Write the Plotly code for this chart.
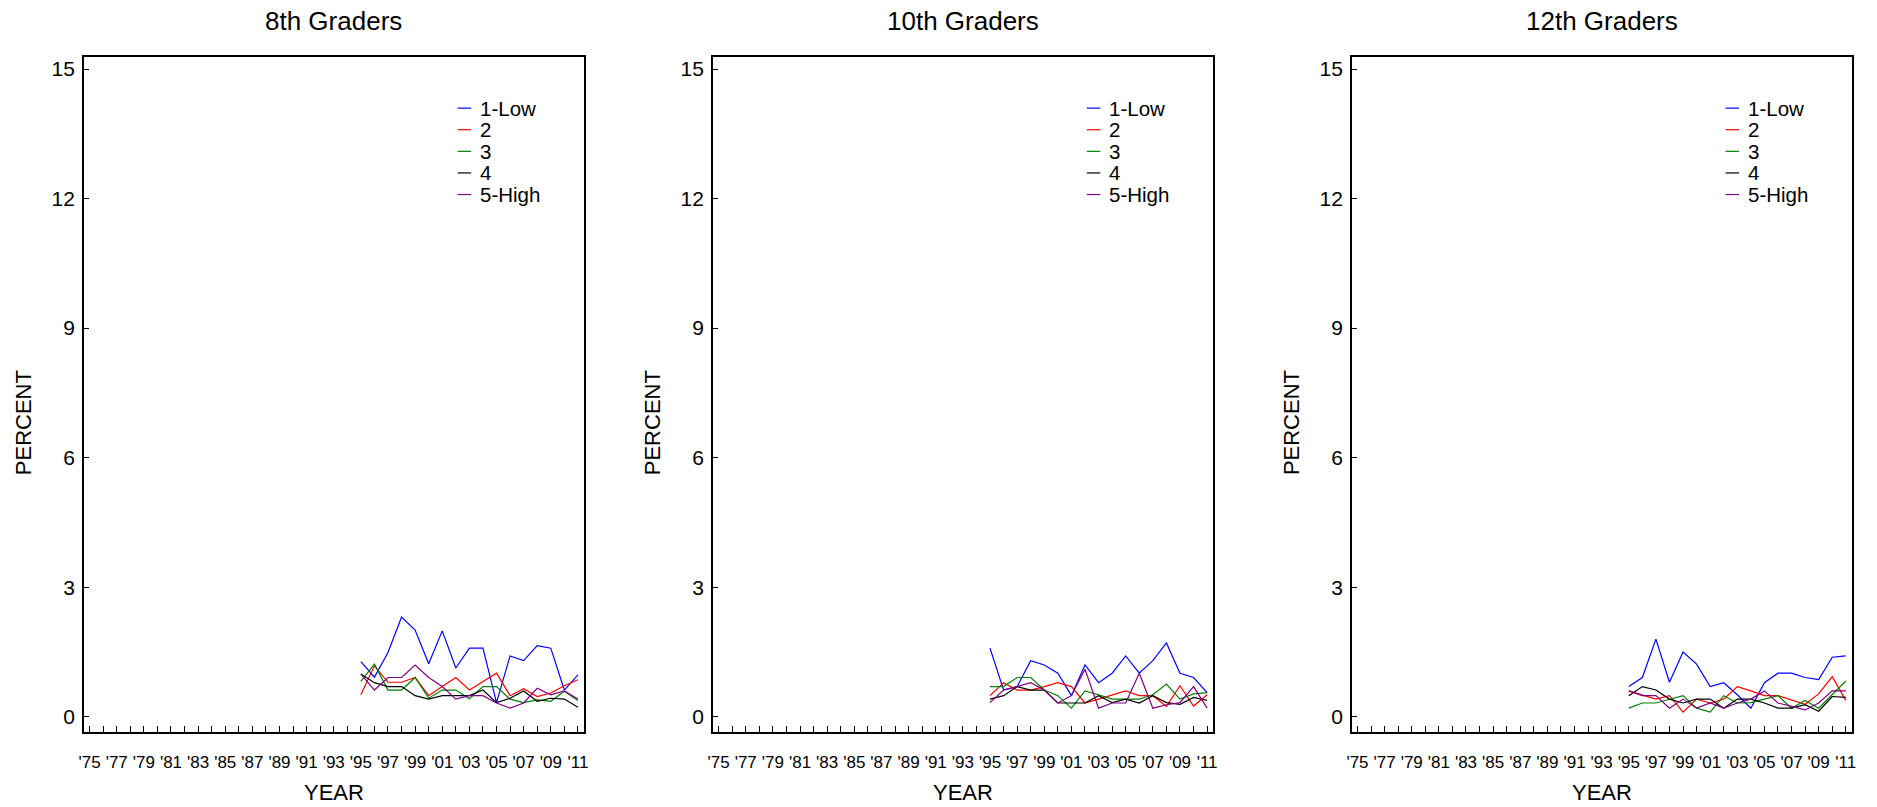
import plotly.graph_objects as go

# ---------------- data ----------------
years = list(range(1995, 2012))
groups = ["1-Low", "2", "3", "4", "5-High"]
line_colors = ["#0000FF", "#FF0000", "#008000", "#000000", "#800080"]
panel_titles = ["8th Graders", "10th Graders", "12th Graders"]

tick_years = list(range(1975, 2012))
tick_labels = ["'75", "", "'77", "", "'79", "", "'81", "", "'83", "", "'85", "", "'87", "",
               "'89", "", "'91", "", "'93", "", "'95", "", "'97", "", "'99", "", "'01", "",
               "'03", "", "'05", "", "'07", "", "'09", "", "'11"]
y_ticks = [0, 3, 6, 9, 12, 15]

# 8th grade
g8_low = [1.28, 0.92, 1.49, 2.31, 2.01, 1.23, 1.99, 1.13, 1.59, 1.59, 0.33, 1.41, 1.30, 1.65, 1.59, 0.62, 0.97]
g8_2 = [0.51, 1.18, 0.80, 0.80, 0.91, 0.49, 0.70, 0.91, 0.62, 0.82, 1.01, 0.49, 0.65, 0.47, 0.55, 0.72, 0.86]
g8_3 = [0.82, 1.22, 0.62, 0.62, 0.91, 0.43, 0.62, 0.62, 0.42, 0.70, 0.70, 0.41, 0.33, 0.39, 0.36, 0.59, 0.38]
g8_4 = [0.99, 0.79, 0.70, 0.70, 0.49, 0.41, 0.49, 0.49, 0.49, 0.62, 0.33, 0.43, 0.60, 0.36, 0.43, 0.41, 0.22]
g8_high = [0.99, 0.62, 0.91, 0.91, 1.20, 0.91, 0.70, 0.41, 0.49, 0.49, 0.32, 0.20, 0.32, 0.66, 0.51, 0.60, 0.41]

# 10th grade
g10_low = [1.59, 0.62, 0.70, 1.30, 1.20, 1.01, 0.49, 1.20, 0.79, 1.01, 1.41, 1.01, 1.30, 1.71, 1.01, 0.91, 0.56]
g10_2 = [0.49, 0.79, 0.62, 0.62, 0.70, 0.79, 0.70, 0.32, 0.41, 0.51, 0.60, 0.49, 0.49, 0.24, 0.72, 0.25, 0.51]
g10_3 = [0.70, 0.70, 0.91, 0.91, 0.62, 0.49, 0.20, 0.60, 0.51, 0.41, 0.41, 0.41, 0.51, 0.76, 0.41, 0.53, 0.56]
g10_4 = [0.41, 0.49, 0.70, 0.62, 0.62, 0.32, 0.32, 0.32, 0.49, 0.33, 0.41, 0.32, 0.49, 0.33, 0.29, 0.45, 0.38]
g10_high = [0.33, 0.62, 0.70, 0.79, 0.62, 0.32, 0.49, 1.10, 0.20, 0.32, 0.32, 1.01, 0.20, 0.28, 0.33, 0.70, 0.20]

# 12th grade
g12_low = [0.70, 0.91, 1.80, 0.80, 1.50, 1.22, 0.70, 0.79, 0.51, 0.20, 0.79, 1.01, 1.01, 0.91, 0.86, 1.38, 1.41]
g12_2 = [0.60, 0.51, 0.41, 0.49, 0.11, 0.41, 0.32, 0.41, 0.70, 0.60, 0.49, 0.49, 0.39, 0.29, 0.53, 0.93, 0.38]
g12_3 = [0.20, 0.32, 0.32, 0.41, 0.49, 0.20, 0.11, 0.49, 0.32, 0.33, 0.41, 0.49, 0.20, 0.38, 0.20, 0.51, 0.83]
g12_4 = [0.49, 0.70, 0.62, 0.41, 0.32, 0.41, 0.41, 0.20, 0.41, 0.41, 0.32, 0.20, 0.20, 0.28, 0.13, 0.47, 0.45]
g12_high = [0.60, 0.49, 0.49, 0.20, 0.41, 0.20, 0.32, 0.20, 0.32, 0.41, 0.60, 0.32, 0.24, 0.16, 0.32, 0.60, 0.60]

panel_series = [
    [g8_low, g8_2, g8_3, g8_4, g8_high],
    [g10_low, g10_2, g10_3, g10_4, g10_high],
    [g12_low, g12_2, g12_3, g12_4, g12_high],
]

# ---------------- layout geometry (pixels) ----------------
W, H = 1877, 807
FONT = "Liberation Sans, Arial, Helvetica, sans-serif"
panel_px = [(79.3, 581.7), (711.7, 1214.3), (1354.0, 1856.4)]
box_top, box_bottom = 56.5, 731.5
y_dom = [1 - box_bottom / H, 1 - box_top / H]

fig = go.Figure()
layout = dict(
    width=W, height=H,
    margin=dict(l=0, r=0, t=0, b=0),
    paper_bgcolor="white", plot_bgcolor="white",
    showlegend=False,
    font=dict(family=FONT, color="black"),
)

shapes = []
annotations = []

for p, (x0px, x1px) in enumerate(panel_px):
    n = "" if p == 0 else str(p + 1)
    xa, ya = "x" + n, "y" + n
    for g, series in enumerate(panel_series[p]):
        fig.add_trace(go.Scatter(
            x=years, y=series, mode="lines", name=groups[g],
            line=dict(color=line_colors[g], width=1.2),
            xaxis=xa, yaxis=ya,
        ))
    layout["xaxis" + n] = dict(
        domain=[x0px / W, x1px / W], anchor=ya,
        range=[1974.58, 2011.42],
        tickmode="array", tickvals=tick_years, ticktext=tick_labels,
        ticks="inside", ticklen=6, tickwidth=1.2, tickcolor="black",
        tickfont=dict(size=17, family=FONT, color="black"),
        ticklabelstandoff=14,
        showline=True, linecolor="black", linewidth=1.5, mirror=True,
        showgrid=False, zeroline=False,
    )
    layout["yaxis" + n] = dict(
        domain=y_dom, anchor=xa,
        range=[-0.34, 15.29],
        tickmode="array", tickvals=y_ticks, ticktext=[str(v) for v in y_ticks],
        ticks="inside", ticklen=5, tickwidth=1.2, tickcolor="black",
        tickfont=dict(size=21, family=FONT, color="black"),
        ticklabelstandoff=3,
        showline=True, linecolor="black", linewidth=1.5, mirror=True,
        showgrid=False, zeroline=False,
    )
    cx = (x0px + x1px) / 2
    # panel title
    annotations.append(dict(text=panel_titles[p], xref="paper", yref="paper",
                            x=cx / W, y=1 - 21.5 / H, showarrow=False,
                            xanchor="center", yanchor="middle",
                            font=dict(size=26, family=FONT, color="black")))
    # axis titles
    annotations.append(dict(text="YEAR", xref="paper", yref="paper",
                            x=cx / W, y=1 - 792 / H, showarrow=False,
                            xanchor="center", yanchor="middle",
                            font=dict(size=22, family=FONT, color="black")))
    annotations.append(dict(text="PERCENT", xref="paper", yref="paper",
                            x=(x0px - 61) / W, y=1 - 423 / H, showarrow=False,
                            textangle=-90, xanchor="center", yanchor="middle",
                            font=dict(size=22, family=FONT, color="black")))
    # legend drawn inside each panel
    for g in range(len(groups)):
        yy = 0.9235 - g * 0.032
        shapes.append(dict(type="line", xref=xa + " domain", yref=ya + " domain",
                           x0=0.748, x1=0.775, y0=yy, y1=yy,
                           line=dict(color=line_colors[g], width=1.2)))
        annotations.append(dict(text=groups[g], xref=xa + " domain", yref=ya + " domain",
                                x=0.788, y=yy, showarrow=False,
                                xanchor="left", yanchor="middle",
                                font=dict(size=20.5, family=FONT, color="black")))

layout["shapes"] = shapes
layout["annotations"] = annotations
fig.update_layout(**layout)
fig.write_html(
    "out.html",
    config={"displayModeBar": False},
    post_script="document.body.style.margin='0';document.body.style.overflow='hidden';",
)
